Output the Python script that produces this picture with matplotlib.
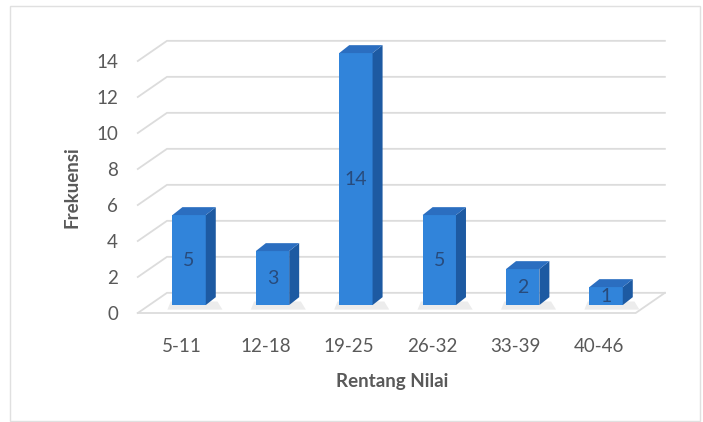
import matplotlib
matplotlib.use("Agg")
import matplotlib.pyplot as plt
from matplotlib.patches import Polygon, Rectangle

categories = ["5-11", "12-18", "19-25", "26-32", "33-39", "40-46"]
values = [5, 3, 14, 5, 2, 1]
yticks = [0, 2, 4, 6, 8, 10, 12, 14]

plt.rcParams['font.family'] = ['Lato', 'DejaVu Sans']

W, H = 703, 422
fig = plt.figure(figsize=(W/100, H/100), dpi=100)
fig.patch.set_facecolor('white')

# axes mapping: x px = 182 + 83.4*i ; y px(top) = 313 - 18*v
x0, xs = 182.0, 83.4
y0, ys = 313.0, 18.0
xlim = (-0.7, 5.8)
ylim = (-1.0, 15.5)
left = x0 + xs*xlim[0]
right = x0 + xs*xlim[1]
top = y0 - ys*ylim[1]
bot = y0 - ys*ylim[0]
ax = fig.add_axes([left/W, (H-bot)/H, (right-left)/W, (bot-top)/H])
ax.set_xlim(*xlim)
ax.set_ylim(*ylim)
for s in ax.spines.values():
    s.set_visible(False)

# depth vector (front floor edge -> back wall)
ddx, ddy = 0.35, 1.12
xl_front = -0.53
xr_back = 5.79
grid_c = '#dcdcdc'
for v in yticks:
    ax.plot([xl_front, xl_front+ddx, xr_back], [v, v+ddy, v+ddy],
            color=grid_c, lw=1.3, solid_joinstyle='miter', zorder=1)
# floor front edge and right edge
ax.plot([xl_front, xr_back-ddx, xr_back], [0, 0, ddy], color=grid_c, lw=1.3, zorder=1)

# bars
off_x, off_y = 0.085, 0.44     # bar front-face offset from floor front
bw = 0.40                      # bar width
sx, sy = 0.12, 0.44            # bar depth
front_c = '#3184DA'
side_c = '#1D5AA2'
top_c = '#2B6EC0'
for i, v in enumerate(values):
    xa = i + off_x - bw/2
    xb = i + off_x + bw/2
    yb = off_y
    yt = off_y + v
    # shadow
    ax.add_patch(Polygon([(xa-0.06, yb-0.25), (xb+sx+0.08, yb-0.25),
                          (xb+sx+0.02, yb+0.2), (xa-0.02, yb+0.2)],
                         closed=True, fc='#ececec', ec='none', zorder=2))
    ax.add_patch(Rectangle((xa, yb), bw, v, fc=front_c, ec='none', zorder=3))
    ax.add_patch(Polygon([(xb, yb), (xb+sx, yb+sy), (xb+sx, yt+sy), (xb, yt)],
                         closed=True, fc=side_c, ec='none', zorder=3))
    ax.add_patch(Polygon([(xa, yt), (xb, yt), (xb+sx, yt+sy), (xa+sx, yt+sy)],
                         closed=True, fc=top_c, ec='none', zorder=3))
    ax.text(i + off_x, yb + v/2, str(v), ha='center', va='center',
            fontsize=14, color='#284B7C', zorder=4)

ax.set_yticks(yticks)
ax.set_yticklabels([str(t) for t in yticks])
ax.set_xticks(range(len(categories)))
ax.set_xticklabels(categories)
ax.tick_params(axis='both', length=0, labelsize=13.5, labelcolor='#595959')
ax.tick_params(axis='y', pad=4)
ax.tick_params(axis='x', pad=5)

fig.text(72/W, 1-187/H, 'Frekuensi', rotation=90, ha='center', va='center',
         fontsize=13.5, fontweight='bold', color='#595959')
fig.text(392/W, 1-381/H, 'Rentang Nilai', ha='center', va='center',
         fontsize=13.5, fontweight='bold', color='#595959')

# chart border
fig.add_artist(Rectangle((10/W, 1/H), (W-13)/W, (H-7)/H, transform=fig.transFigure,
                         fill=False, ec='#e0e0e0', lw=1.0))

fig.savefig('out.png', dpi=100, facecolor='white')
